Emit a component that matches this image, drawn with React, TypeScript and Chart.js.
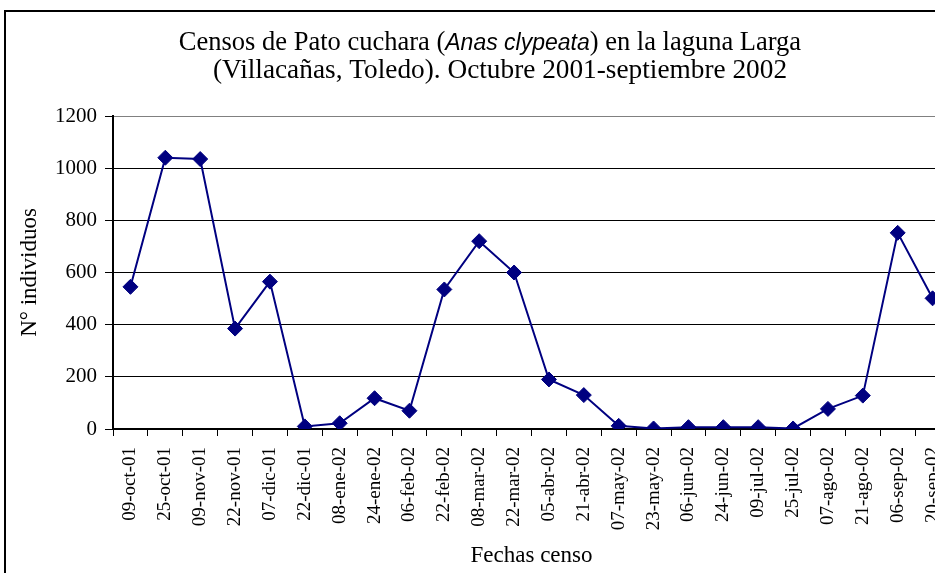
import React, { useEffect, useRef } from "react";
import { Chart, registerables } from "chart.js";

Chart.register(...registerables);

const categories = [
  "09-oct-01", "25-oct-01", "09-nov-01", "22-nov-01", "07-dic-01", "22-dic-01",
  "08-ene-02", "24-ene-02", "06-feb-02", "22-feb-02", "08-mar-02", "22-mar-02",
  "05-abr-02", "21-abr-02", "07-may-02", "23-may-02", "06-jun-02", "24-jun-02",
  "09-jul-02", "25-jul-02", "07-ago-02", "21-ago-02", "06-sep-02", "20-sep-02",
];

const counts = [
  545, 1040, 1035, 385, 565, 10,
  22, 118, 70, 535, 720, 600,
  190, 130, 12, 2, 7, 7,
  7, 2, 77, 128, 752, 501,
];

const yMin = 0;
const yMax = 1200;
const yStep = 200;

const titleLine1 = [
  { text: "Censos de Pato cuchara (", italic: false },
  { text: "Anas clypeata", italic: true },
  { text: ") en la laguna Larga", italic: false },
];
const titleLine2 = "(Villacañas, Toledo). Octubre 2001-septiembre 2002";
const yAxisTitle = "N° individuos";
const xAxisTitle = "Fechas censo";

const SERIF = '"Liberation Serif", "Times New Roman", serif';
const SANS = '"Liberation Sans", Arial, sans-serif';

const titlePlugin = {
  id: "mixedTitle",
  afterDraw(chart: any) {
    const ctx = chart.ctx as CanvasRenderingContext2D;
    const cx = chart.width / 2;
    const serifFont1 = `26.5px ${SERIF}`;
    const serifFont2 = `27.3px ${SERIF}`;
    const italicFont = `italic 23px ${SANS}`;
    ctx.save();
    ctx.fillStyle = "#000";
    ctx.textBaseline = "alphabetic";
    ctx.textAlign = "left";
    let total = 0;
    const widths = titleLine1.map((seg) => {
      ctx.font = seg.italic ? italicFont : serifFont1;
      const w = ctx.measureText(seg.text).width;
      total += w;
      return w;
    });
    let x = cx - 5 - total / 2;
    titleLine1.forEach((seg, i) => {
      ctx.font = seg.italic ? italicFont : serifFont1;
      ctx.fillText(seg.text, x, 38);
      x += widths[i];
    });
    ctx.font = serifFont2;
    ctx.textAlign = "center";
    ctx.fillText(titleLine2, cx + 5, 66);
    ctx.restore();
  },
};

export default function App() {
  const canvasRef = useRef<HTMLCanvasElement | null>(null);

  useEffect(() => {
    const canvas = canvasRef.current;
    if (!canvas) return;
    const chart = new Chart(canvas, {
      type: "line",
      data: {
        labels: categories,
        datasets: [
          {
            data: counts,
            borderColor: "#000080",
            backgroundColor: "#000080",
            borderWidth: 2,
            pointStyle: "rectRot",
            pointRadius: 7.5,
            pointHoverRadius: 7.5,
            pointBorderWidth: 1,
            pointBorderColor: "#000080",
            pointBackgroundColor: "#000080",
            tension: 0,
          },
        ],
      },
      options: {
        responsive: false,
        animation: false,
        devicePixelRatio: 1,
        layout: { padding: { top: 104, right: 34, bottom: 0, left: 0 } },
        plugins: {
          legend: { display: false },
          tooltip: { enabled: false },
          title: { display: false },
        },
        scales: {
          x: {
            offset: true,
            grid: {
              offset: true,
              drawOnChartArea: false,
              drawTicks: true,
              tickLength: 7,
              color: "#000",
              tickColor: "#000",
              lineWidth: 1,
            },
            border: { color: "#000", width: 2 },
            ticks: {
              autoSkip: false,
              maxRotation: 90,
              minRotation: 90,
              padding: 11,
              color: "#000",
              font: { family: SERIF, size: 19 },
            },
            title: {
              display: true,
              text: xAxisTitle,
              color: "#000",
              font: { family: SERIF, size: 23 },
              padding: { top: 0, bottom: 12 },
            },
            afterFit: (s: any) => {
              s.height = 153;
            },
          },
          y: {
            min: yMin,
            max: yMax,
            ticks: {
              stepSize: yStep,
              padding: 8,
              color: "#000",
              font: { family: SERIF, size: 21 },
              callback: (v: any) => String(v),
            },
            grid: {
              color: (c: any) => (c.tick && c.tick.value === yMax ? "#808080" : "#000"),
              tickColor: "#000",
              tickLength: 8,
              lineWidth: 1,
            },
            border: { color: "#000", width: 2 },
            title: {
              display: true,
              text: yAxisTitle,
              color: "#000",
              font: { family: SERIF, size: 23 },
              padding: { top: 10, bottom: 0 },
            },
            afterFit: (s: any) => {
              s.width = 107;
            },
          },
        },
      },
      plugins: [titlePlugin],
    });
    return () => chart.destroy();
  }, []);

  return (
    <div
      style={{
        position: "fixed",
        left: 0,
        top: 0,
        width: 935,
        height: 573,
        overflow: "hidden",
        background: "#fff",
      }}
    >
      <div
        style={{
          position: "absolute",
          left: 4,
          top: 10,
          border: "2px solid #000",
          background: "#fff",
        }}
      >
        <canvas ref={canvasRef} width={978} height={570} style={{ display: "block" }} />
      </div>
    </div>
  );
}
